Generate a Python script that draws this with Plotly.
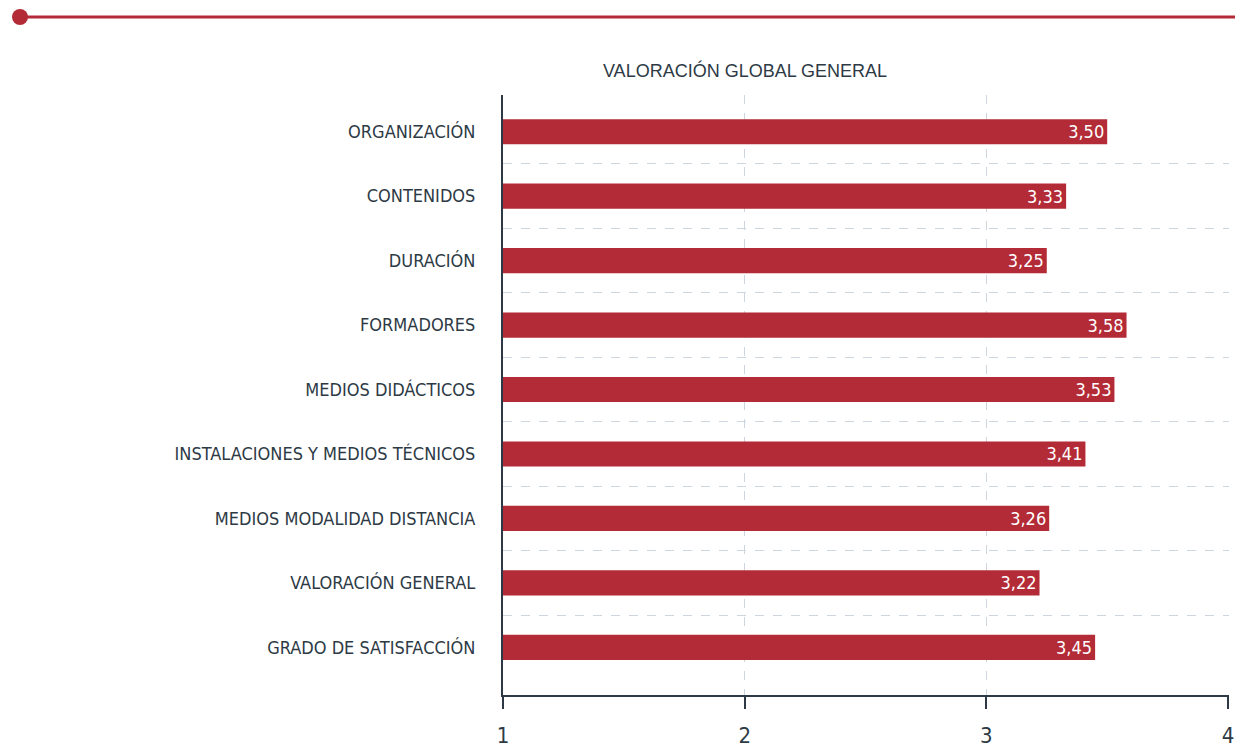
import plotly.graph_objects as go

categorias = [
    "ORGANIZACIÓN",
    "CONTENIDOS",
    "DURACIÓN",
    "FORMADORES",
    "MEDIOS DIDÁCTICOS",
    "INSTALACIONES Y MEDIOS TÉCNICOS",
    "MEDIOS MODALIDAD DISTANCIA",
    "VALORACIÓN GENERAL",
    "GRADO DE SATISFACCIÓN",
]
valores = [3.50, 3.33, 3.25, 3.58, 3.53, 3.41, 3.26, 3.22, 3.45]
ticks_x = [1, 2, 3, 4]
titulo = "VALORACIÓN GLOBAL GENERAL"

ROJO = "#b32b36"
OSCURO = "#2d3a45"
GRID = "#cdd5de"
NARROW = "Liberation Sans Narrow, DejaVu Sans Condensed, Arial Narrow, sans-serif"

W, H = 1235, 754
ML, MR, MT = 503, 6, 95
PW = W - ML - MR
PH = 600
MB = H - MT - PH


def px(x):
    return (x - ML) / PW


def py(y):
    return (MT + PH - y) / PH


etiquetas = [f"{v:.2f}".replace(".", ",") for v in valores]

fig = go.Figure()
fig.add_trace(go.Bar(
    x=[v - 1 for v in valores],
    y=categorias,
    orientation="h",
    base=1,
    width=0.39,
    marker=dict(color=ROJO, line=dict(width=0)),
    text=etiquetas,
    textposition="inside",
    insidetextanchor="end",
    constraintext="none",
    textfont=dict(family=NARROW, size=18, color="white"),
    hoverinfo="skip",
))
# dummy trace so the boundary grid axis gets drawn
fig.add_trace(go.Scatter(x=[None], y=[None], yaxis="y2", showlegend=False))

fig.update_layout(
    width=W, height=H,
    margin=dict(l=ML, r=MR, t=MT, b=MB, pad=0, autoexpand=False),
    paper_bgcolor="white",
    plot_bgcolor="white",
    showlegend=False,
    title=dict(
        text=titulo,
        x=745 / W, xanchor="center", xref="container",
        y=1 - 71 / H, yanchor="middle", yref="container",
        font=dict(family="Liberation Sans, Arial, sans-serif", size=18, color=OSCURO),
    ),
    xaxis=dict(
        range=[1, 4.004],
        tickvals=ticks_x,
        showgrid=True,
        gridcolor=GRID,
        griddash="dash",
        gridwidth=1,
        showline=True,
        linecolor=OSCURO,
        linewidth=2,
        ticks="outside",
        ticklen=12,
        tickwidth=2,
        tickcolor=OSCURO,
        ticklabelstandoff=8,
        ticklabeloverflow="allow",
        automargin=False,
        tickfont=dict(family=NARROW, size=22, color=OSCURO),
        zeroline=False,
        fixedrange=True,
    ),
    yaxis=dict(
        type="category",
        categoryorder="array",
        categoryarray=categorias,
        range=[8.74, -0.57],
        showgrid=False,
        showline=True,
        linecolor=OSCURO,
        linewidth=2,
        ticks="",
        ticklabelstandoff=22,
        automargin=False,
        tickfont=dict(family=NARROW, size=18, color=OSCURO),
        fixedrange=True,
    ),
    yaxis2=dict(
        overlaying="y",
        range=[8.74, -0.57],
        tickvals=[-0.56, 0.5, 1.5, 2.5, 3.5, 4.5, 5.5, 6.5, 7.5],
        showticklabels=False,
        showgrid=True,
        gridcolor=GRID,
        griddash="dash",
        gridwidth=1,
        zeroline=False,
        showline=False,
        automargin=False,
        fixedrange=True,
    ),
    shapes=[
        dict(type="line", xref="paper", yref="paper",
             x0=px(20), x1=px(1235), y0=py(17), y1=py(17),
             line=dict(color=ROJO, width=3), layer="above"),
        dict(type="circle", xref="paper", yref="paper",
             x0=px(12), x1=px(28), y0=py(9), y1=py(25),
             fillcolor=ROJO, line=dict(width=0), layer="above"),
    ],
)

# figure is sized to the whole window, so drop the default body margin
fig.write_html(
    "out.html",
    config={"displayModeBar": False},
    post_script="document.body.style.margin = '0px';",
)
